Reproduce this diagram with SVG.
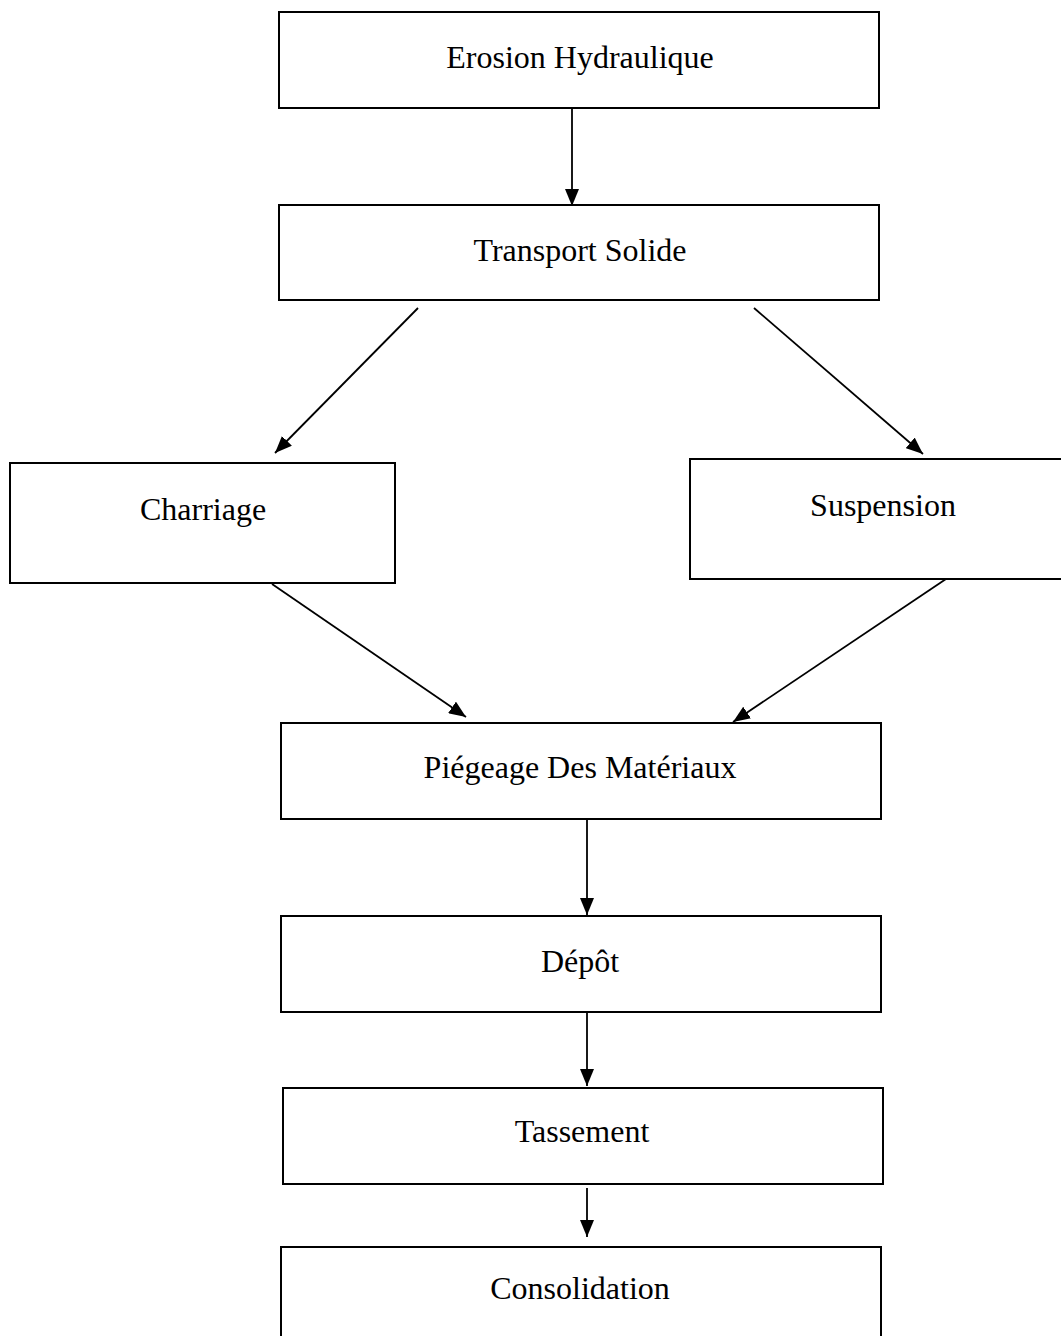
<svg xmlns="http://www.w3.org/2000/svg" width="1061" height="1336" viewBox="0 0 1061 1336">
<style>
.box{fill:#fff;stroke:#000;stroke-width:2}
.lbl{font-family:"Liberation Serif","Times New Roman",serif;font-size:32px;fill:#000;text-anchor:middle}
.edge{stroke:#000;stroke-width:1.8;fill:none;marker-end:url(#ah)}
</style>
<defs>
<marker id="ah" markerUnits="userSpaceOnUse" markerWidth="17" markerHeight="14" refX="17" refY="7" orient="auto">
<path d="M0,0 L17,7 L0,14 z" fill="#000"/>
</marker>
</defs>
<rect width="1061" height="1336" fill="#fff"/>
<g id="connectors">
<line class="edge" x1="572" y1="109" x2="572" y2="206"/>
<line class="edge" x1="418" y1="308" x2="275" y2="453"/>
<line class="edge" x1="754" y1="308" x2="923" y2="454"/>
<line class="edge" x1="272" y1="584" x2="466" y2="717"/>
<line class="edge" x1="946" y1="579" x2="733" y2="722"/>
<line class="edge" x1="587" y1="820" x2="587" y2="915"/>
<line class="edge" x1="587" y1="1013" x2="587" y2="1086"/>
<line class="edge" x1="587" y1="1188" x2="587" y2="1237"/>
</g>
<g id="n-erosion"><rect class="box" x="279" y="12" width="600" height="96"/><text class="lbl" x="580" y="68">Erosion Hydraulique</text></g>
<g id="n-transport"><rect class="box" x="279" y="205" width="600" height="95"/><text class="lbl" x="580" y="261">Transport Solide</text></g>
<g id="n-charriage"><rect class="box" x="10" y="463" width="385" height="120"/><text class="lbl" x="203" y="520">Charriage</text></g>
<g id="n-suspension"><rect class="box" x="690" y="459" width="380" height="120"/><text class="lbl" x="883" y="516">Suspension</text></g>
<g id="n-piegeage"><rect class="box" x="281" y="723" width="600" height="96"/><text class="lbl" x="580" y="778">Piégeage Des Matériaux</text></g>
<g id="n-depot"><rect class="box" x="281" y="916" width="600" height="96"/><text class="lbl" x="580" y="972">Dépôt</text></g>
<g id="n-tassement"><rect class="box" x="283" y="1088" width="600" height="96"/><text class="lbl" x="582" y="1142">Tassement</text></g>
<g id="n-consolidation"><rect class="box" x="281" y="1247" width="600" height="100"/><text class="lbl" x="580" y="1299">Consolidation</text></g>
</svg>
